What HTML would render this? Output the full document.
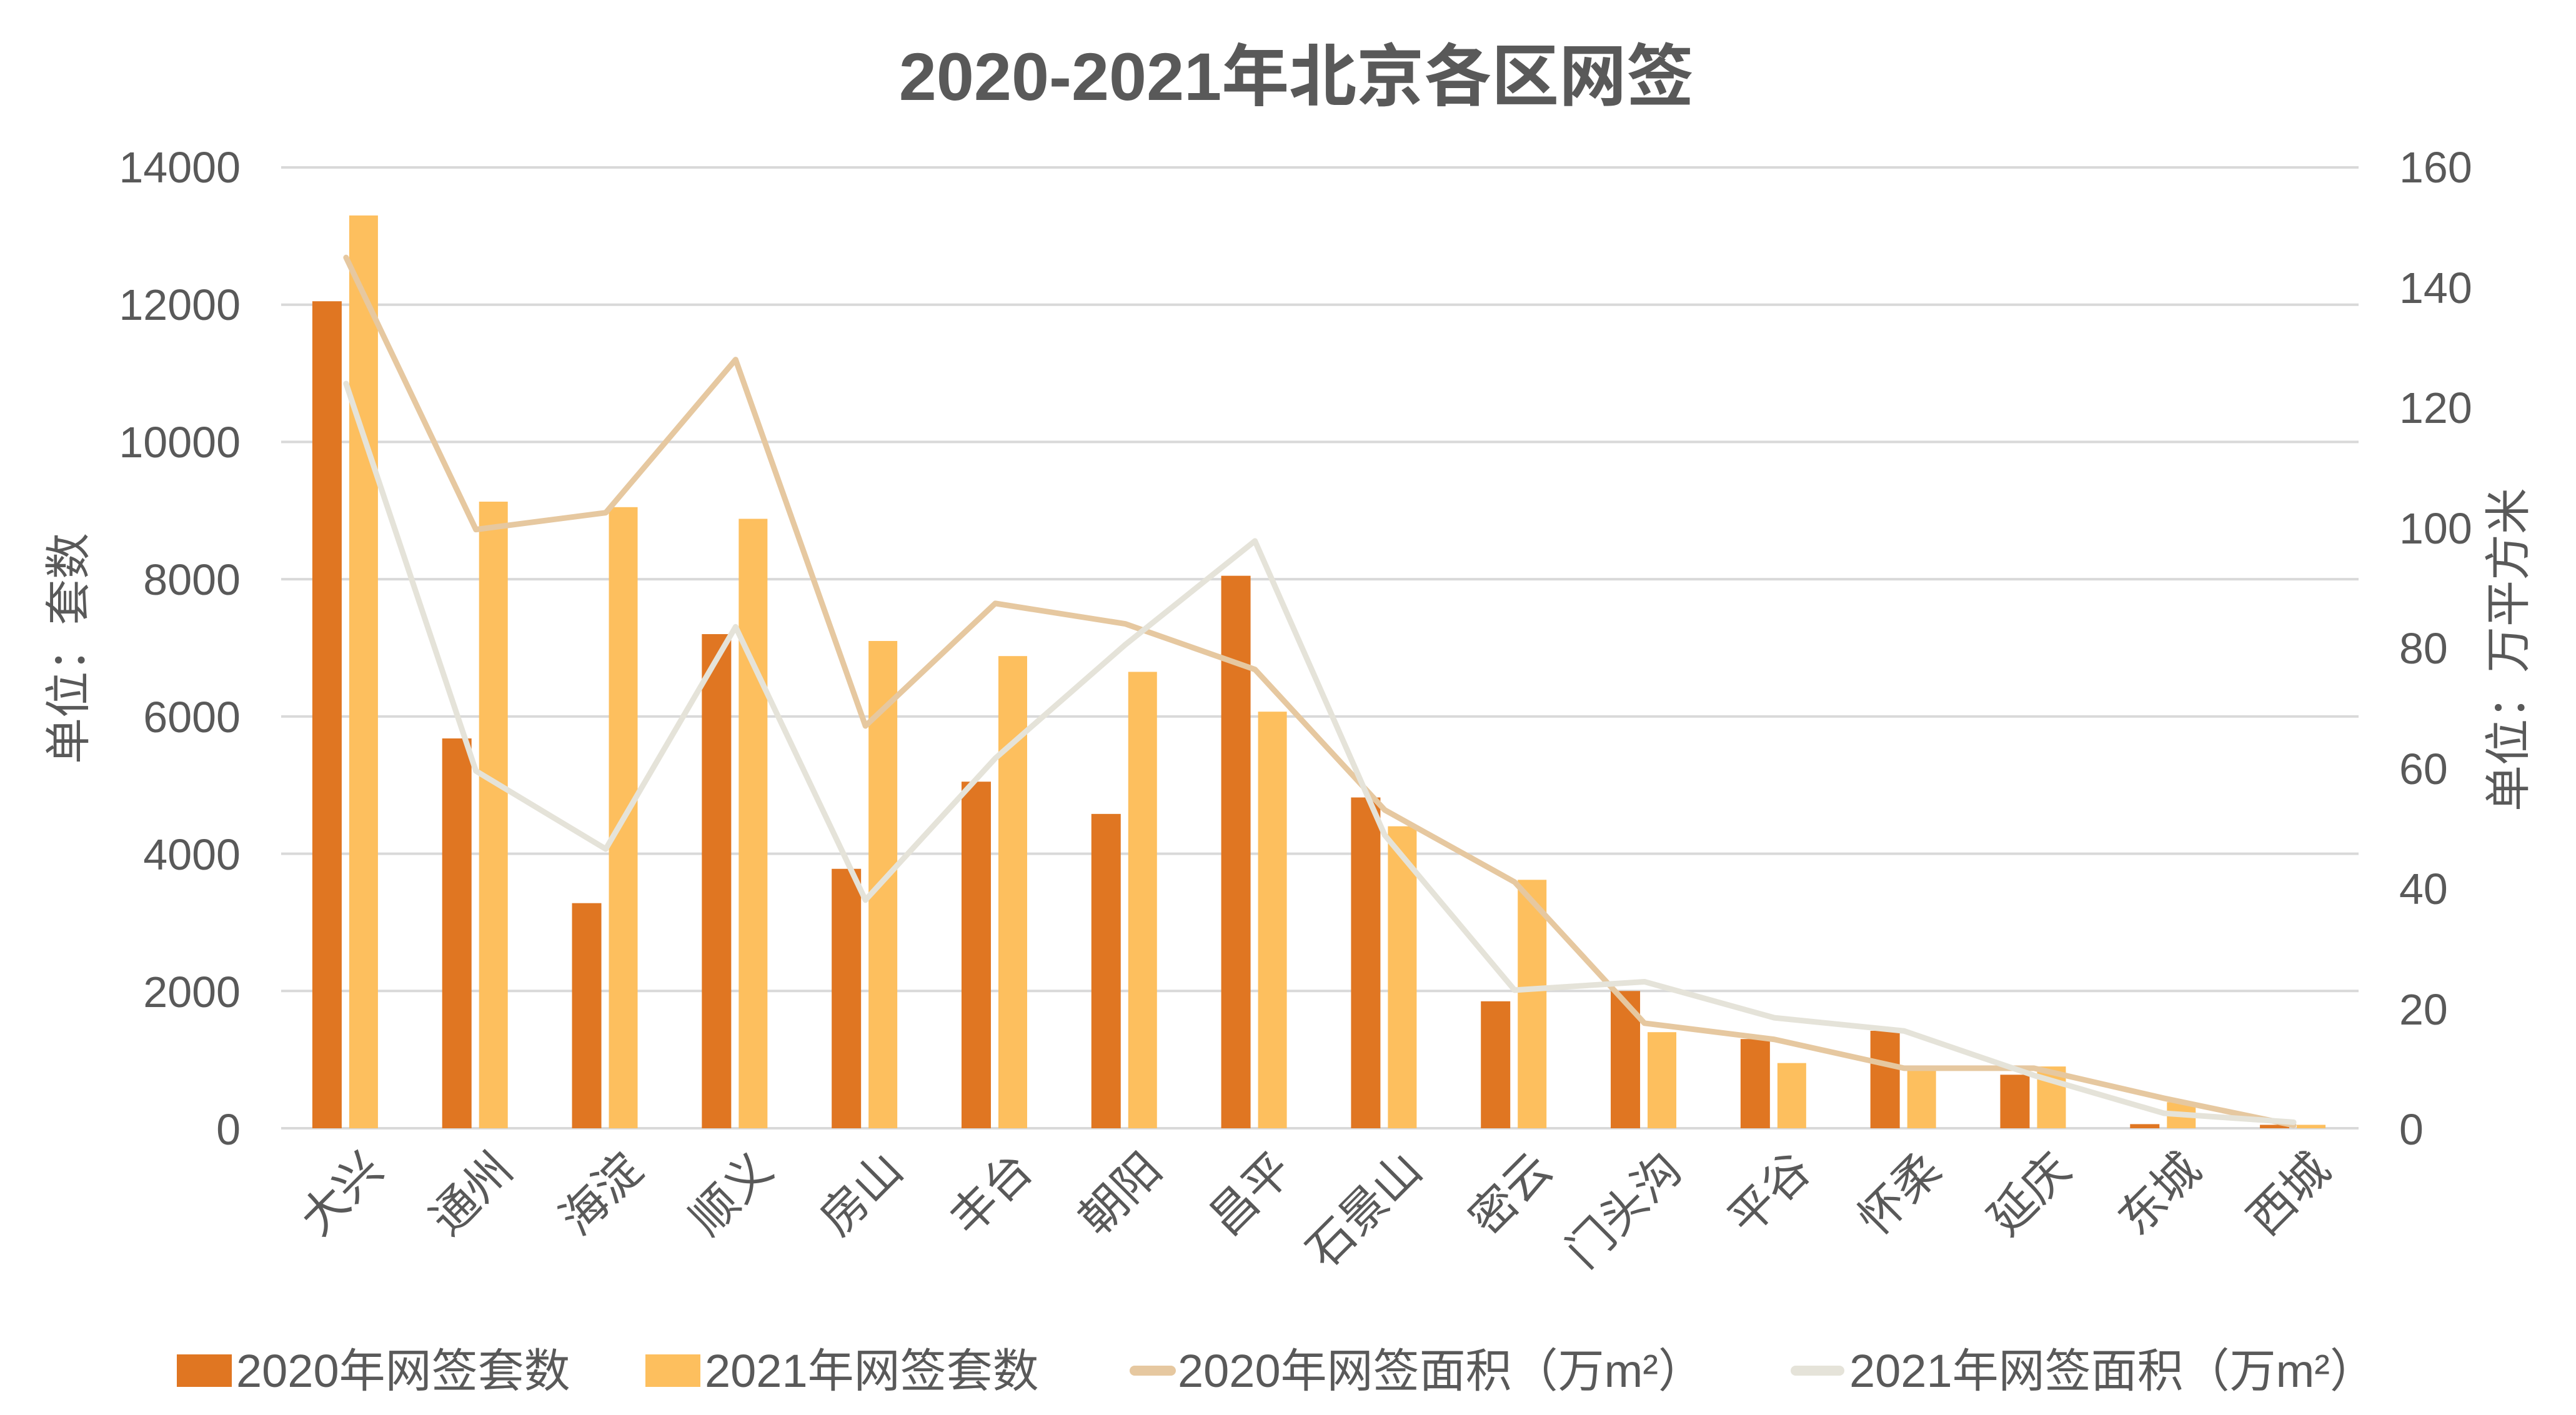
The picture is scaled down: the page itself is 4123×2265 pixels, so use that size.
<!DOCTYPE html>
<html><head><meta charset="utf-8"><style>
html,body{margin:0;padding:0;background:#fff;}
svg{display:block;}
text{font-family:"Liberation Sans","Noto Sans CJK SC",sans-serif;fill:#595959;}
</style></head><body>
<svg id="s" width="4123" height="2265" viewBox="0 0 4123 2265" xmlns="http://www.w3.org/2000/svg">
<text x="2075" y="160" font-size="108" font-weight="bold" text-anchor="middle">2020-2021年北京各区网签</text>
<g id="grid"></g>
<g id="bars"></g>
<g id="lines"></g>
<g font-size="70" text-anchor="end">
<text x="385" y="292">14000</text>
<text x="385" y="512">12000</text>
<text x="385" y="732">10000</text>
<text x="385" y="952">8000</text>
<text x="385" y="1172">6000</text>
<text x="385" y="1392">4000</text>
<text x="385" y="1612">2000</text>
<text x="385" y="1832">0</text>
</g>
<g font-size="70" text-anchor="start">
<text x="3840" y="292">160</text>
<text x="3840" y="485">140</text>
<text x="3840" y="677">120</text>
<text x="3840" y="870">100</text>
<text x="3840" y="1062">80</text>
<text x="3840" y="1255">60</text>
<text x="3840" y="1447">40</text>
<text x="3840" y="1640">20</text>
<text x="3840" y="1832">0</text>
</g>
<text transform="translate(135,1038) rotate(-90)" font-size="74" text-anchor="middle">单位：套数</text>
<text transform="translate(4040,1040) rotate(-90)" font-size="74" text-anchor="middle">单位：万平方米</text>
<g font-size="74" text-anchor="end">
<text transform="translate(580,1840) rotate(-45)" dy="0.7em">大兴</text>
<text transform="translate(788,1840) rotate(-45)" dy="0.7em">通州</text>
<text transform="translate(996,1840) rotate(-45)" dy="0.7em">海淀</text>
<text transform="translate(1204,1840) rotate(-45)" dy="0.7em">顺义</text>
<text transform="translate(1412,1840) rotate(-45)" dy="0.7em">房山</text>
<text transform="translate(1620,1840) rotate(-45)" dy="0.7em">丰台</text>
<text transform="translate(1827,1840) rotate(-45)" dy="0.7em">朝阳</text>
<text transform="translate(2035,1840) rotate(-45)" dy="0.7em">昌平</text>
<text transform="translate(2243,1840) rotate(-45)" dy="0.7em">石景山</text>
<text transform="translate(2451,1840) rotate(-45)" dy="0.7em">密云</text>
<text transform="translate(2659,1840) rotate(-45)" dy="0.7em">门头沟</text>
<text transform="translate(2866,1840) rotate(-45)" dy="0.7em">平谷</text>
<text transform="translate(3074,1840) rotate(-45)" dy="0.7em">怀柔</text>
<text transform="translate(3282,1840) rotate(-45)" dy="0.7em">延庆</text>
<text transform="translate(3490,1840) rotate(-45)" dy="0.7em">东城</text>
<text transform="translate(3697,1840) rotate(-45)" dy="0.7em">西城</text>
</g>
<g font-size="74">
<rect x="283" y="2168" width="88" height="52" fill="#E07622"/>
<text x="378" y="2220">2020年网签套数</text>
<rect x="1033" y="2168" width="88" height="52" fill="#FDBF5E"/>
<text x="1128" y="2220">2021年网签套数</text>
<line x1="1816" y1="2194" x2="1874" y2="2194" stroke="#E6C8A0" stroke-width="16" stroke-linecap="round"/>
<text x="1885" y="2220">2020年网签面积（万m²）</text>
<line x1="2874" y1="2194" x2="2944" y2="2194" stroke="#E5E3D9" stroke-width="16" stroke-linecap="round"/>
<text x="2960" y="2220">2021年网签面积（万m²）</text>
</g>
</svg>
<script>
(function(){
var NS="http://www.w3.org/2000/svg";
var L=450,R=3775,T=268,B=1806,H=B-T,n=16,w=(R-L)/n;
function el(p,t,a){var e=document.createElementNS(NS,t);for(var k in a)e.setAttribute(k,a[k]);document.getElementById(p).appendChild(e);return e;}
for(var i=0;i<=7;i++){var y=B-H*i/7;el("grid","line",{x1:L,x2:R,y1:y,y2:y,stroke:"#D9D9D9","stroke-width":4});}
var s20=[12050,5680,3280,7200,3780,5050,4580,8050,4820,1850,2000,1300,1420,780,60,50];
var s21=[13300,9130,9050,8880,7100,6880,6650,6070,4400,3620,1400,950,900,900,380,50];
var a20=[145,99.7,102.5,128,67,87.4,84,76.4,53,41,17.5,14.8,10,10,5,0.5];
var a21=[124,59.5,46.5,83.5,38,61.6,80.5,97.8,48.8,23,24.4,18.4,16.2,8.8,2.5,1];
var p20=[],p21=[];
for(var i=0;i<n;i++){
 var c=L+w*(i+0.5);
 var h1=H*s20[i]/14000,h2=H*s21[i]/14000;
 el("bars","rect",{x:c-54,y:B-h1,width:47,height:h1,fill:"#E07622"});
 el("bars","rect",{x:c+5,y:B-h2,width:46,height:h2,fill:"#FDBF5E"});
 p20.push(c+","+(B-H*a20[i]/160));
 p21.push(c+","+(B-H*a21[i]/160));
}
el("lines","polyline",{points:p20.join(" "),fill:"none",stroke:"#E6C8A0","stroke-width":9,"stroke-linecap":"round","stroke-linejoin":"round"});
el("lines","polyline",{points:p21.join(" "),fill:"none",stroke:"#E5E3D9","stroke-width":9,"stroke-linecap":"round","stroke-linejoin":"round"});
})();
</script>
</body></html>
